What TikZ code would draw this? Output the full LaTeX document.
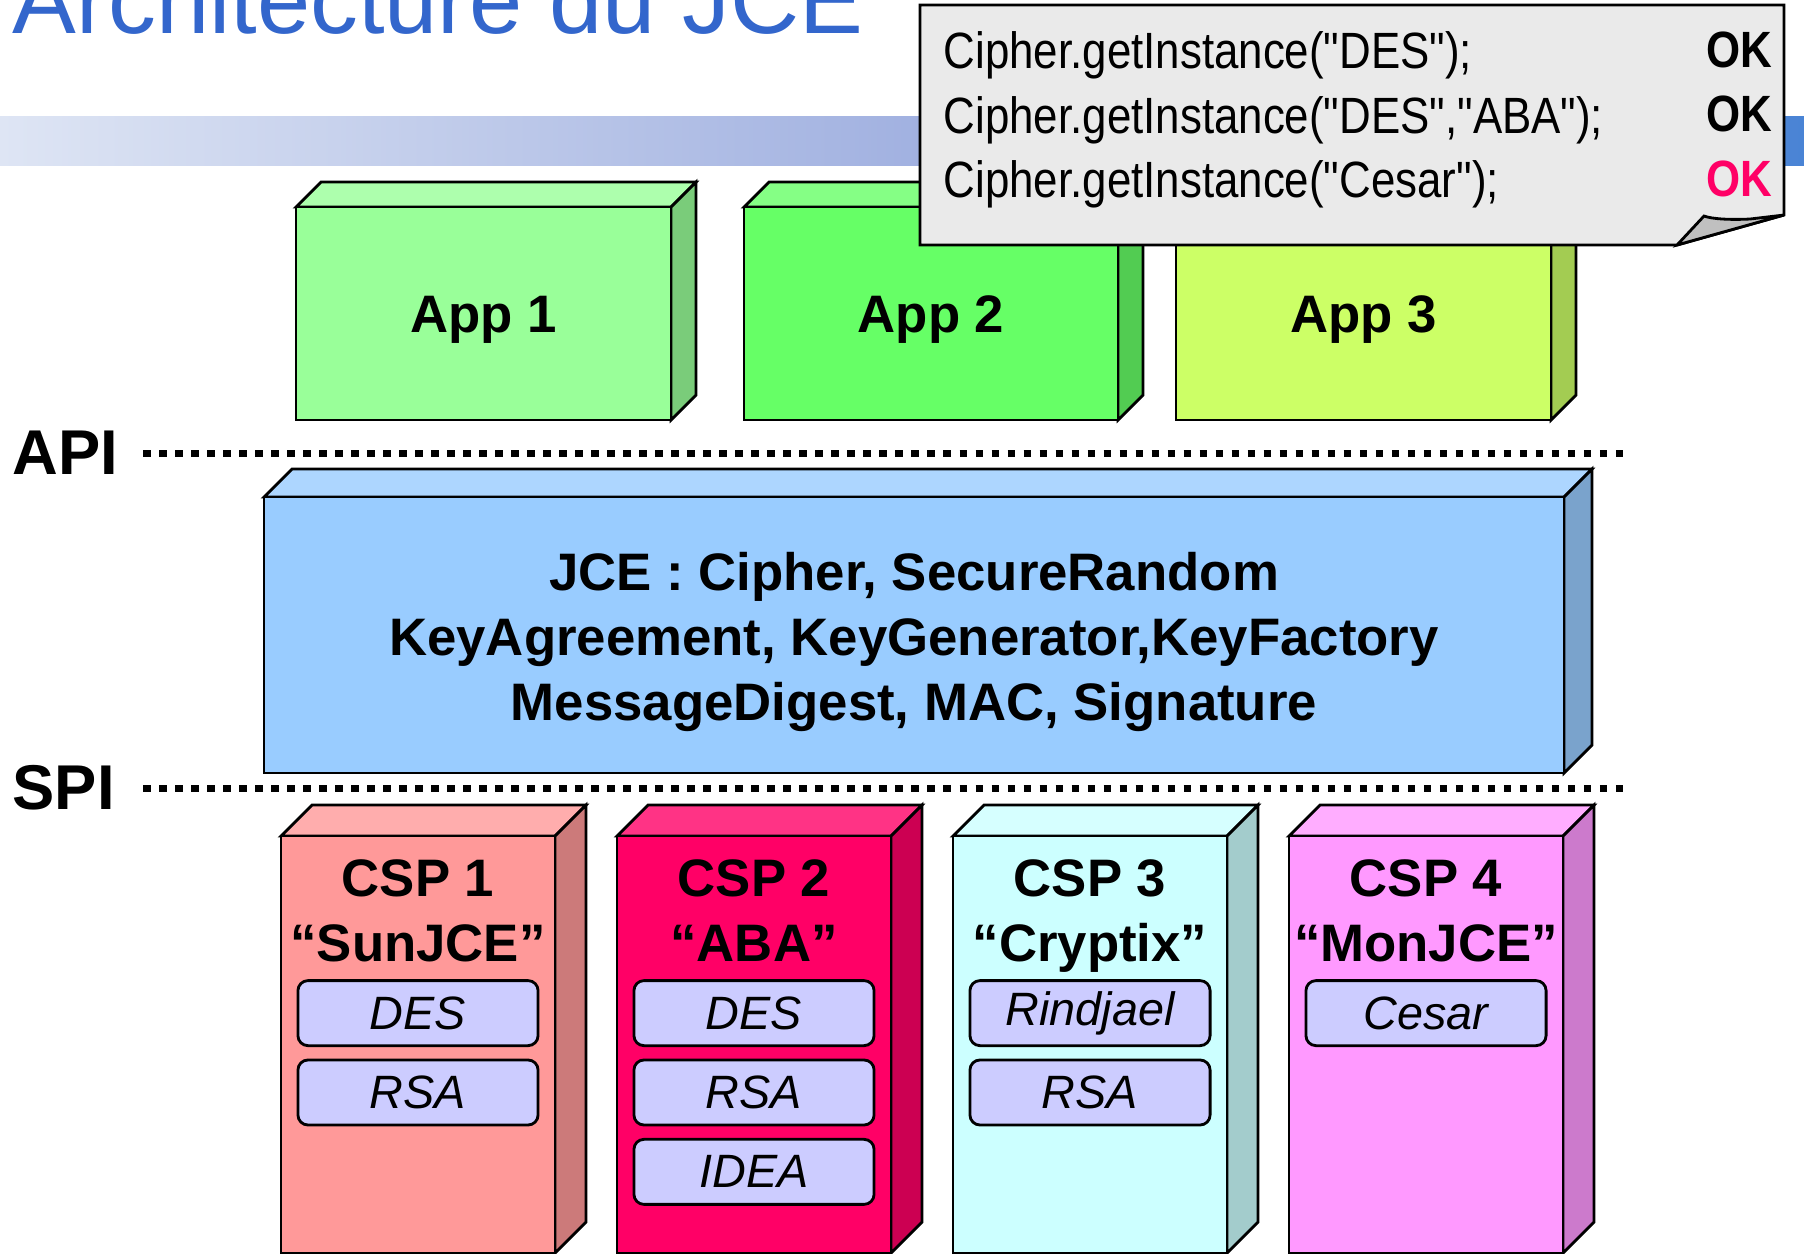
\documentclass[tikz,border=0pt]{standalone}
\usepackage{fontspec}
\setmainfont{Liberation Sans}
\newfontfamily\etroite[FakeStretch=0.86]{Liberation Sans}
\usetikzlibrary{positioning}

\definecolor{titrebleu}{RGB}{51,102,204}
\definecolor{vert1}{RGB}{153,255,153}
\definecolor{vert2}{RGB}{102,255,102}
\definecolor{vert3}{RGB}{204,255,102}
\definecolor{bleujce}{RGB}{153,204,255}
\definecolor{rose1}{RGB}{255,153,153}
\definecolor{rose2}{RGB}{255,0,102}
\definecolor{cyan3}{RGB}{204,255,255}
\definecolor{mauve4}{RGB}{255,153,255}
\definecolor{fondalgo}{RGB}{204,204,255}
\definecolor{bulle}{RGB}{234,234,234}
\definecolor{pli}{RGB}{192,192,192}
\definecolor{okrose}{RGB}{255,0,102}

\pgfdeclarehorizontalshading{barre}{100bp}{color(0bp)=(rgb,255:red,245;green,247;blue,252);
  color(25bp)=(rgb,255:red,222;green,229;blue,244);
  color(51bp)=(rgb,255:red,160;green,176;blue,224);
  color(90bp)=(rgb,255:red,20;green,104;blue,206);
  color(100bp)=(rgb,255:red,0;green,100;blue,204)}

\tikzset{
  boite/.style={draw=black, line width=0.8pt},
  etiquette/.style={font=\fontsize{15}{18.4}\selectfont\bfseries, align=center, inner sep=0pt},
  algo/.style={draw, line width=0.8pt, fill=fondalgo, rounded corners=0.1cm,
    minimum width=2.4cm, minimum height=0.65cm, inner sep=0pt,
    font=\fontsize{13.3}{16}\selectfont\itshape},
  couche/.style={font=\fontsize{18}{20}\selectfont\bfseries, inner sep=0pt},
  pointilles/.style={line width=0.07cm, dash pattern=on 0.075cm off 0.085cm},
  appel/.style={font=\etroite\fontsize{14.5}{18.35}\selectfont, align=left, inner sep=0pt}
}

% pave : nom, x, y, largeur, hauteur, profondeur, couleur
\newcommand{\pave}[7]{%
  \draw[boite, fill=#7!80!white] (#2,#3) -- ++(#6,-#6) -- ++(#4,0) -- ++(-#6,#6) -- cycle;
  \draw[boite, fill=#7!80!black] (#2+#4,#3) -- ++(#6,-#6) -- ++(0,#5) -- ++(-#6,#6) -- cycle;
  \draw[boite, fill=#7] (#2,#3) rectangle ++(#4,#5);
  \coordinate (#1) at (#2+#4/2,#3);
}

\begin{document}
\begin{tikzpicture}[x=0.01cm, y=-0.01cm]
\useasboundingbox (0,0) rectangle (1804,1253);

% bandeau et titre
\shade[shading=barre] (0,116) rectangle (1804,165);
\node[anchor=base west, inner sep=0pt, text=titrebleu, font=\fontsize{27.2}{30}\selectfont] (titre) at (12,33) {Architecture du JCE};

% applications
\pave{app1}{296}{207}{375}{213}{25}{vert1}
\pave{app2}{744}{207}{374}{213}{25}{vert2}
\pave{app3}{1176}{207}{375}{213}{25}{vert3}
\node[etiquette, anchor=base] (app1-nom) at ([yshift=-1.25cm]app1) {App 1};
\node[etiquette, anchor=base] (app2-nom) at ([yshift=-1.25cm]app2) {App 2};
\node[etiquette, anchor=base] (app3-nom) at ([yshift=-1.25cm]app3) {App 3};

% API
\node[couche, anchor=west] (api) at (12,453) {API};
\draw[pointilles] (143,453) -- (1625,453);

% JCE
\pave{jce}{264}{497}{1300}{276}{28}{bleujce}
\node[etiquette, anchor=north] (jce-nom) at ([yshift=-0.55cm]jce)
  {JCE : Cipher, SecureRandom\\KeyAgreement, KeyGenerator,KeyFactory\\MessageDigest, MAC, Signature};

% SPI
\node[couche, anchor=west] (spi) at (12,788) {SPI};
\draw[pointilles] (143,788) -- (1625,788);

% fournisseurs
\pave{csp1}{281}{836}{274}{417}{31}{rose1}
\pave{csp2}{617}{836}{274}{417}{31}{rose2}
\pave{csp3}{953}{836}{274}{417}{31}{cyan3}
\pave{csp4}{1289}{836}{274}{417}{31}{mauve4}
\node[etiquette, anchor=north] (csp1-nom) at ([yshift=-0.23cm]csp1) {CSP 1\\“SunJCE”};
\node[etiquette, anchor=north] (csp2-nom) at ([yshift=-0.23cm]csp2) {CSP 2\\“ABA”};
\node[etiquette, anchor=north] (csp3-nom) at ([yshift=-0.23cm]csp3) {CSP 3\\“Cryptix”};
\node[etiquette, anchor=north] (csp4-nom) at ([yshift=-0.23cm]csp4) {CSP 4\\“MonJCE”};

\node[algo] (des1) at ([yshift=-1.77cm]csp1) {DES};
\node[algo, below=0.115cm of des1] (rsa1) {RSA};
\node[algo] (des2) at ([yshift=-1.77cm]csp2) {DES};
\node[algo, below=0.115cm of des2] (rsa2) {RSA};
\node[algo, below=0.115cm of rsa2] (idea2) {IDEA};
\node[algo] (rindjael3) at ([yshift=-1.77cm]csp3) {Rindjael};
\node[algo, below=0.115cm of rindjael3] (rsa3) {RSA};
\node[algo] (cesar4) at ([yshift=-1.77cm]csp4) {Cesar};

% bulle
\draw[boite, fill=bulle] (920,5) -- (1784,5) -- (1784,215) -- (1677,245) -- (920,245) -- cycle;
\draw[boite, fill=pli] (1677,245) -- (1704,216) .. controls (1712,219) and (1730,220) .. (1750,219) -- (1784,215) -- cycle;
\node[appel, anchor=north west] (appels) at (943,31)
  {Cipher.getInstance("DES");\\Cipher.getInstance("DES","ABA");\\Cipher.getInstance("Cesar");};
\node[appel, font=\etroite\fontsize{14.5}{18.35}\selectfont\bfseries, anchor=north east, align=right] (reponses) at (1773,31)
  {OK\\OK\\\textcolor{okrose}{OK}};
\end{tikzpicture}
\end{document}
